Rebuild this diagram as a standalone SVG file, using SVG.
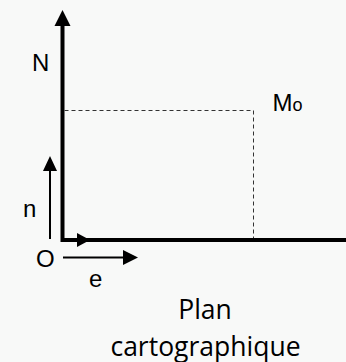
<svg xmlns="http://www.w3.org/2000/svg" width="346" height="362" viewBox="0 0 346 362">
<style>
.lbl{font-family:"Liberation Sans",Arial,sans-serif;font-size:24px;fill:#000}
.cap{font-family:"Open Sans","Liberation Sans",sans-serif;font-size:26.5px;fill:#000;text-anchor:middle}
.dash{fill:none;stroke:#333;stroke-width:1;stroke-dasharray:4 3}
.thin{fill:none;stroke:#000;stroke-width:2}
</style>
<rect width="346" height="362" fill="#f8f9f8"/>
<g id="connectors">
  <path d="M62.5,25 V240 H346" fill="none" stroke="#000" stroke-width="4" stroke-linejoin="miter"/>
  <polygon points="62.5,10 70.5,26 54.5,26" fill="#000"/>
  <polygon points="90,240 77,233 77,247" fill="#000"/>
  <path class="dash" d="M64.5,110.5 H253.5 V238"/>
  <line class="thin" x1="50" y1="239" x2="50" y2="168"/>
  <polygon points="50,156 57,171 43,171" fill="#000"/>
  <line class="thin" x1="63" y1="257.5" x2="126" y2="257.5"/>
  <polygon points="138,257.5 123,250 123,265" fill="#000"/>
</g>
<g id="label-N"><text class="lbl" x="32" y="71">N</text></g>
<g id="label-M0"><text class="lbl" x="272.5" y="111">M<tspan font-size="18">o</tspan></text></g>
<g id="label-n"><text class="lbl" x="23" y="217">n</text></g>
<g id="label-O"><text class="lbl" x="36" y="266.5">O</text></g>
<g id="label-e"><text class="lbl" x="89" y="286.5">e</text></g>
<g id="caption"><text class="cap" x="205" y="319">Plan</text><text class="cap" x="205.5" y="355.5">cartographique</text></g>
</svg>
